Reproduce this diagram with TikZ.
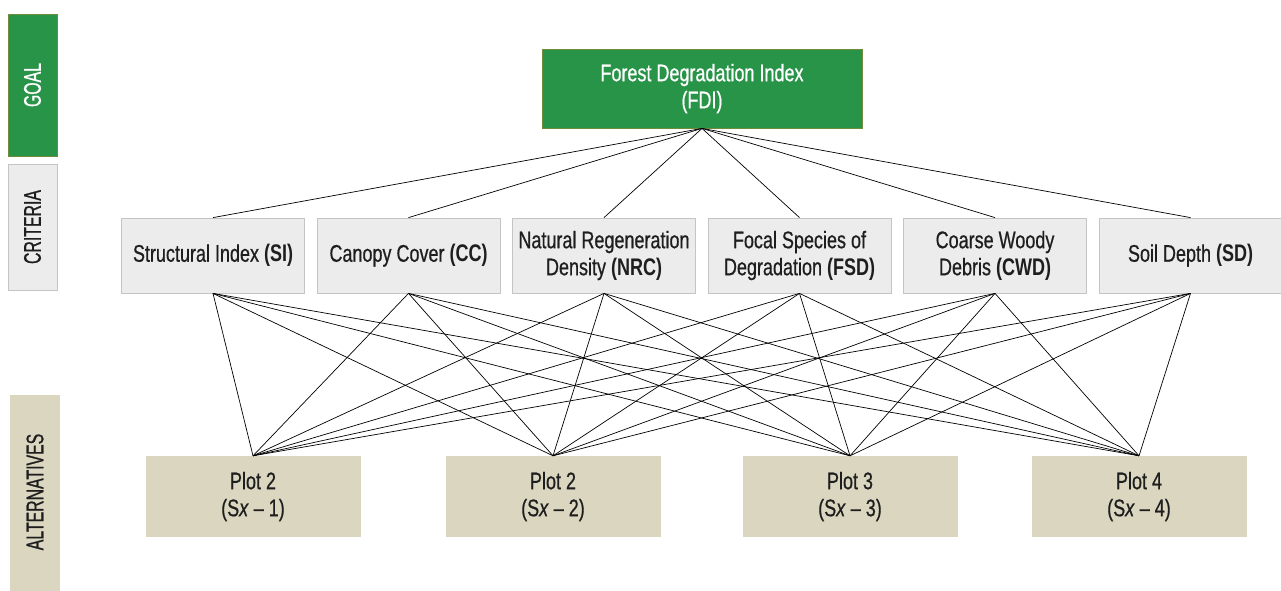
\documentclass[tikz,border=0pt]{standalone}
\usepackage{fontspec}
\setmainfont[FakeStretch=0.75,UprightFeatures={FakeBold=0.6},ItalicFeatures={FakeBold=0.6}]{Liberation Sans}
\newfontfamily\sidefont[FakeStretch=0.66,FakeBold=0.8]{Liberation Sans}
\definecolor{goalgreen}{RGB}{40,148,72}
\definecolor{goalborder}{RGB}{110,140,60}
\definecolor{critfill}{RGB}{236,236,236}
\definecolor{critborder}{RGB}{196,196,196}
\definecolor{altfill}{RGB}{218,214,192}
\definecolor{txt}{RGB}{30,30,30}
\begin{document}
\begin{tikzpicture}[x=1pt,y=-1pt,
  every node/.style={inner sep=0pt,align=center,font=\fontsize{24}{27}\selectfont,text=txt},
  goalbox/.style={fill=goalgreen,draw=goalborder,line width=0.8pt,text=white},
  critbox/.style={fill=critfill,draw=critborder,line width=0.8pt,minimum width=183pt,minimum height=75pt},
  altbox/.style={fill=altfill,draw=none,minimum width=215pt,minimum height=81pt},
  sidelab/.style={rotate=90,font=\sidefont\fontsize{24}{26}\selectfont},
  link/.style={draw=black,line width=0.7pt}]
\useasboundingbox (0,0) rectangle (1281,590);
% side labels
\node[goalbox,minimum width=49pt,minimum height=142pt] (sgoal) at (32.5,85) {};
\node[sidelab,text=white] (sgoalt) at (sgoal.center) {GOAL};
\node[fill=critfill,draw=critborder,line width=0.8pt,minimum width=49pt,minimum height=126pt] (scrit) at (32.5,227) {};
\node[sidelab] (scritt) at (scrit.center) {CRITERIA};
\node[fill=altfill,minimum width=50pt,minimum height=200pt] (salt) at (35,495) {};
\node[sidelab] (saltt) at (35,492) {ALTERNATIVES};
% goal
\node[goalbox,minimum width=320pt,minimum height=79pt] (fdi) at (702,88.5) {Forest Degradation Index\\(FDI)};
% criteria
\node[critbox] (si) at (213,255.5) {Structural Index \textbf{(SI)}};
\node[critbox] (cc) at (408.5,255.5) {Canopy Cover \textbf{(CC)}};
\node[critbox] (nrc) at (604,255.5) {Natural Regeneration\\Density \textbf{(NRC)}};
\node[critbox] (fsd) at (799.5,255.5) {Focal Species of\\Degradation \textbf{(FSD)}};
\node[critbox] (cwd) at (995,255.5) {Coarse Woody\\Debris \textbf{(CWD)}};
\node[critbox] (sd) at (1190.5,255.5) {Soil Depth \textbf{(SD)}};
% alternatives
\node[altbox] (p1) at (253,496.5) {Plot 2\\(S\textit{x} – 1)};
\node[altbox] (p2) at (553,496.5) {Plot 2\\(S\textit{x} – 2)};
\node[altbox] (p3) at (850,496.5) {Plot 3\\(S\textit{x} – 3)};
\node[altbox] (p4) at (1139,496.5) {Plot 4\\(S\textit{x} – 4)};
% links
\foreach \c in {si,cc,nrc,fsd,cwd,sd}{
  \draw[link] (fdi.south) -- (\c.north);
  \foreach \p in {p1,p2,p3,p4}{
    \draw[link] (\c.south) -- (\p.north);
  }
}
\end{tikzpicture}
\end{document}
